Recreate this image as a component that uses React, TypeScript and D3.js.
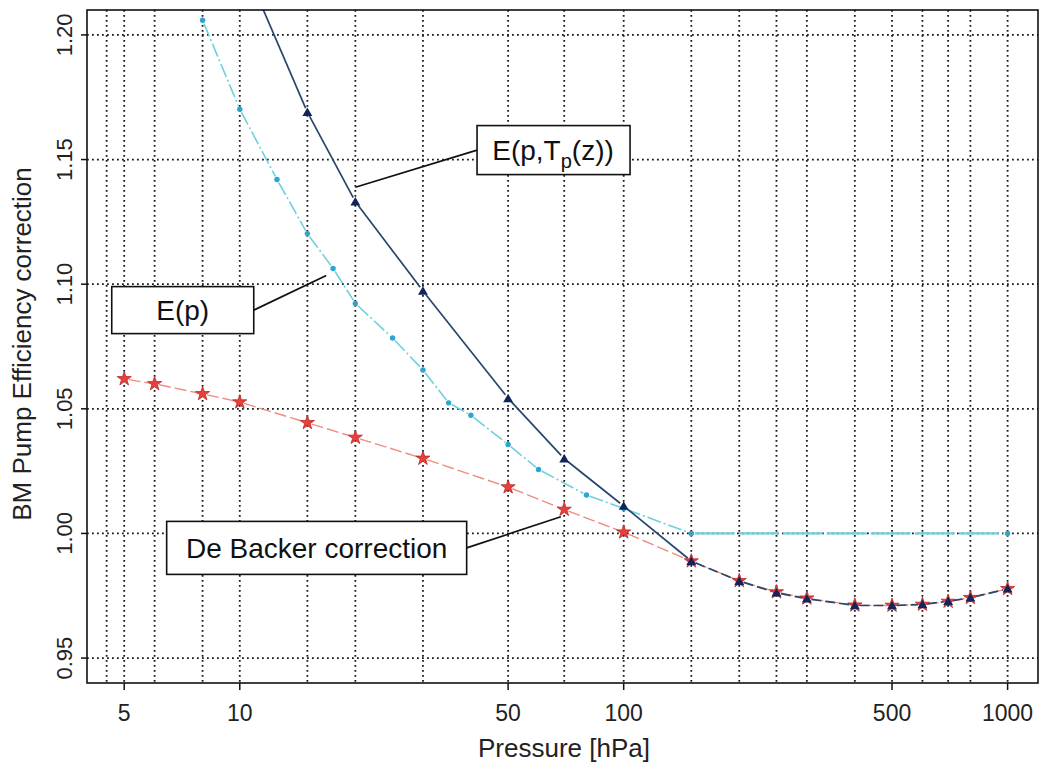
import React from "react";
import * as d3 from "d3";

// ---------- data ----------
const gridPressures = [4.5, 5, 6, 8, 10, 15, 20, 30, 50, 70, 100, 150, 200, 250, 300, 400, 500, 600, 700, 800, 1000];
const xTickValues = [5, 10, 50, 100, 500, 1000];
const yTickValues = [0.95, 1.0, 1.05, 1.1, 1.15, 1.2];

const deBackerP = [5, 6, 8, 10, 15, 20, 30, 50, 70, 100, 150, 200, 250, 300, 400, 500, 600, 700, 800, 1000];
const deBackerV = [1.062, 1.06, 1.056, 1.0527, 1.0444, 1.0385, 1.0301, 1.0186, 1.0096, 1.0005, 0.9889, 0.981, 0.9765, 0.974, 0.9712, 0.9711, 0.9715, 0.9727, 0.9742, 0.9778];

const eTpP = [10, 15, 20, 30, 50, 70, 100, 150, 200, 250, 300, 400, 500, 600, 700, 800, 1000];
const eTpV = [1.232, 1.169, 1.1331, 1.0973, 1.0542, 1.03, 1.011, 0.9889, 0.9809, 0.9762, 0.9738, 0.9711, 0.9711, 0.9715, 0.9728, 0.9742, 0.9778];

const ePP = [8, 10, 12.5, 15, 17.5, 20, 25, 30, 35, 40, 50, 60, 80, 100, 150, 1000];
const ePV = [1.2059, 1.1702, 1.142, 1.1203, 1.1063, 1.0923, 1.0784, 1.0656, 1.0524, 1.0474, 1.0357, 1.0257, 1.0154, 1.01, 1.0, 1.0];

// annotation anchors (data coordinates)
const labelEpT = { boxP: 41.5, boxV: 1.1538, tipP: 20, tipV: 1.1389 };
const labelEp = { boxP: 4.64, boxV: 1.0896, tipP: 16.8, tipV: 1.1035 };
const labelDB = { boxP: 6.45, boxV: 0.9942, tipP: 68.6, tipV: 1.0067 };

// ---------- layout ----------
const W = 1042;
const H = 763;
const M = { left: 87, right: 1038, top: 10, bottom: 683 };
const FONT = "'Liberation Sans', Arial, Helvetica, sans-serif";

const x = d3.scaleLog().domain([4, 1200]).range([M.left, M.right]);
const y = d3.scaleLinear().domain([0.94, 1.21]).range([M.bottom, M.top]);

function gappedSegments(ps: number[], vs: number[], gap: number) {
  const out: { x1: number; y1: number; x2: number; y2: number; p: number }[] = [];
  for (let i = 0; i < ps.length - 1; i++) {
    const x1 = x(ps[i]), y1 = y(vs[i]), x2 = x(ps[i + 1]), y2 = y(vs[i + 1]);
    const dx = x2 - x1, dy = y2 - y1;
    const len = Math.hypot(dx, dy);
    if (len <= 2 * gap) continue;
    const ux = dx / len, uy = dy / len;
    out.push({ x1: x1 + ux * gap, y1: y1 + uy * gap, x2: x2 - ux * gap, y2: y2 - uy * gap, p: ps[i] });
  }
  return out;
}

const starPath = d3.symbol(d3.symbolStar, 62)() as string;
const triPath = d3.symbol(d3.symbolTriangle, 42)() as string;

export default function App() {
  const redSegs = gappedSegments(deBackerP, deBackerV, 4.5);
  const cyanSegs = gappedSegments(ePP, ePV, 3.5);
  const navySegs = gappedSegments(eTpP, eTpV, 4.5);

  const gridStyle = { stroke: "#1a1a1a", strokeWidth: 1.8, strokeDasharray: "1.8,3.2" };

  const box = (cx: number, cy: number, w: number, h: number) => (
    <rect x={cx} y={cy - h / 2} width={w} height={h} fill="#fff" stroke="#111" strokeWidth={1.6} />
  );

  const ept = { bx: x(labelEpT.boxP), by: y(labelEpT.boxV), tx: x(labelEpT.tipP), ty: y(labelEpT.tipV) };
  const ep = { bx: x(labelEp.boxP), by: y(labelEp.boxV), tx: x(labelEp.tipP), ty: y(labelEp.tipV) };
  const db = { bx: x(labelDB.boxP), by: y(labelDB.boxV), tx: x(labelDB.tipP), ty: y(labelDB.tipV) };

  return (
    <svg width={W} height={H} style={{ position: "absolute", left: 0, top: 0, background: "#fff", display: "block" }} fontFamily={FONT}>
      <defs>
        <clipPath id="plot">
          <rect x={M.left} y={M.top} width={M.right - M.left} height={M.bottom - M.top} />
        </clipPath>
      </defs>
      <rect x={0} y={0} width={W} height={H} fill="#fff" />

      {/* grid */}
      <g clipPath="url(#plot)">
        {gridPressures.map((p) => (
          <line key={"gx" + p} x1={x(p)} x2={x(p)} y1={M.top} y2={M.bottom} {...gridStyle} />
        ))}
        {yTickValues.map((v) => (
          <line key={"gy" + v} x1={M.left} x2={M.right} y1={y(v)} y2={y(v)} {...gridStyle} />
        ))}
      </g>

      {/* lines */}
      <g clipPath="url(#plot)">
        {redSegs.map((s, i) => (
          <line key={"r" + i} x1={s.x1} y1={s.y1} x2={s.x2} y2={s.y2} stroke="#ef8c80" strokeWidth={1.4} strokeDasharray="12,4" />
        ))}
        {cyanSegs.map((s, i) => (
          <line key={"c" + i} x1={s.x1} y1={s.y1} x2={s.x2} y2={s.y2} stroke="#6fd0dc"
            strokeWidth={s.p >= 150 ? 2.2 : 1.6}
            strokeDasharray={s.p >= 150 ? "40,4" : "14,3,2,3"} />
        ))}
        {navySegs.map((s, i) => (
          <line key={"n" + i} x1={s.x1} y1={s.y1} x2={s.x2} y2={s.y2} stroke="#27466c" strokeWidth={1.7}
            strokeDasharray={s.p >= 150 ? "10,4" : undefined} />
        ))}
      </g>

      {/* markers */}
      <g clipPath="url(#plot)">
        {deBackerP.map((p, i) => (
          <path key={"rm" + p} d={starPath} transform={`translate(${x(p)},${y(deBackerV[i])})`} fill="#e8403a" stroke="#b52a2a" strokeWidth={0.8} />
        ))}
        {ePP.map((p, i) => (
          <circle key={"cm" + p} cx={x(p)} cy={y(ePV[i])} r={2.7} fill="#2aa6cf" />
        ))}
        {eTpP.map((p, i) => (
          <path key={"nm" + p} d={triPath} transform={`translate(${x(p)},${y(eTpV[i]) + 1})`} fill="#14245a" />
        ))}
      </g>

      {/* frame */}
      <rect x={M.left} y={M.top} width={M.right - M.left} height={M.bottom - M.top} fill="none" stroke="#111" strokeWidth={1.6} />

      {/* y axis */}
      {yTickValues.map((v) => (
        <g key={"yt" + v}>
          <line x1={M.left - 6} x2={M.left} y1={y(v)} y2={y(v)} stroke="#111" strokeWidth={1.5} />
          <text transform={`translate(72,${y(v)}) rotate(-90)`} textAnchor="middle" fontSize={22} fill="#222">
            {d3.format(".2f")(v)}
          </text>
        </g>
      ))}
      <text transform={`translate(31,344) rotate(-90)`} textAnchor="middle" fontSize={26} fill="#222">
        BM Pump Efficiency correction
      </text>

      {/* x axis */}
      {xTickValues.map((p) => (
        <g key={"xt" + p}>
          <line x1={x(p)} x2={x(p)} y1={M.bottom} y2={M.bottom + 7} stroke="#111" strokeWidth={1.5} />
          <text x={x(p)} y={721} textAnchor="middle" fontSize={23} fill="#222">
            {p}
          </text>
        </g>
      ))}
      <text x={564} y={757} textAnchor="middle" fontSize={26} fill="#222">
        Pressure [hPa]
      </text>

      {/* annotations */}
      <line x1={ept.tx} y1={ept.ty} x2={ept.bx} y2={ept.by} stroke="#111" strokeWidth={1.7} />
      {box(ept.bx, ept.by, 153, 49)}
      <text x={ept.bx + 76} y={ept.by + 10} textAnchor="middle" fontSize={28} fill="#111">
        <tspan>E(p,T</tspan>
        <tspan dy={8} fontSize={20}>p</tspan>
        <tspan dy={-8}>(z))</tspan>
      </text>

      <line x1={ep.tx} y1={ep.ty} x2={ep.bx + 142} y2={ep.by} stroke="#111" strokeWidth={1.7} />
      {box(ep.bx, ep.by, 142, 47)}
      <text x={ep.bx + 71} y={ep.by + 10} textAnchor="middle" fontSize={28} fill="#111">
        E(p)
      </text>

      <line x1={db.tx} y1={db.ty} x2={db.bx + 300} y2={db.by} stroke="#111" strokeWidth={1.7} />
      {box(db.bx, db.by, 300, 53)}
      <text x={db.bx + 150} y={db.by + 10} textAnchor="middle" fontSize={28} fill="#111">
        De Backer correction
      </text>
    </svg>
  );
}
